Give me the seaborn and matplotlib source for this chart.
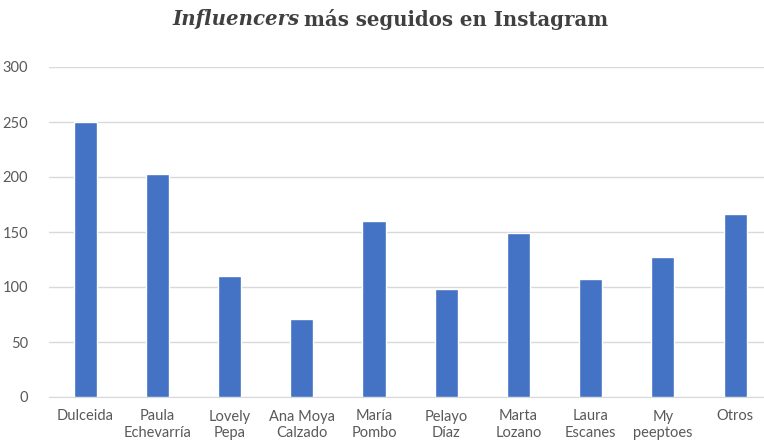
import matplotlib
matplotlib.use("Agg")
import matplotlib.pyplot as plt
import seaborn as sns
import pandas as pd

sns.set_style("white")

# Data
names = ["Dulceida", "Paula\nEchevarría", "Lovely\nPepa", "Ana Moya\nCalzado",
         "María\nPombo", "Pelayo\nDíaz", "Marta\nLozano", "Laura\nEscanes",
         "My\npeeptoes", "Otros"]
followers = [250, 203, 110, 71, 160, 98, 149, 107, 127, 166]
yticks = [0, 50, 100, 150, 200, 250, 300]

df = pd.DataFrame({"name": names, "followers": followers})

fig = plt.figure(figsize=(7.64, 4.46), dpi=100)
ax = fig.add_axes([49 / 764, 49 / 446, 715 / 764, 330 / 446])

sns.barplot(data=df, x="name", y="followers", color="#4472C4", width=0.32,
            saturation=1, ax=ax, zorder=3)

ax.set_xlim(-0.5, 9.4)
ax.set_ylim(0, 300)
ax.set_yticks(yticks)
ax.set_xlabel("")
ax.set_ylabel("")
ax.grid(axis="y", color="#d9d9d9", linewidth=1, zorder=0)
for s in ["top", "right", "left"]:
    ax.spines[s].set_visible(False)
ax.spines["bottom"].set_color("#d9d9d9")
ax.tick_params(axis="both", length=0, colors="#595959", labelsize=10.5)
ax.tick_params(axis="y", pad=15)
ax.tick_params(axis="x", pad=9)
for lab in ax.get_xticklabels() + ax.get_yticklabels():
    lab.set_fontfamily("Lato")
    lab.set_linespacing(1.2)

# Title with italic first word
title_kw = dict(fontsize=14.2, fontweight="bold", color="#404040",
                family="DejaVu Serif", va="center")
t1 = fig.text(172 / 764, 1 - 19 / 446, "Influencers", style="italic", **title_kw)
fig.canvas.draw()
bb = t1.get_window_extent()
x2 = (bb.x1 + 5) / fig.bbox.width
t2 = fig.text(x2, 1 - 19 / 446, "más seguidos en Instagram", **title_kw)

fig.savefig("out.png", dpi=100)
